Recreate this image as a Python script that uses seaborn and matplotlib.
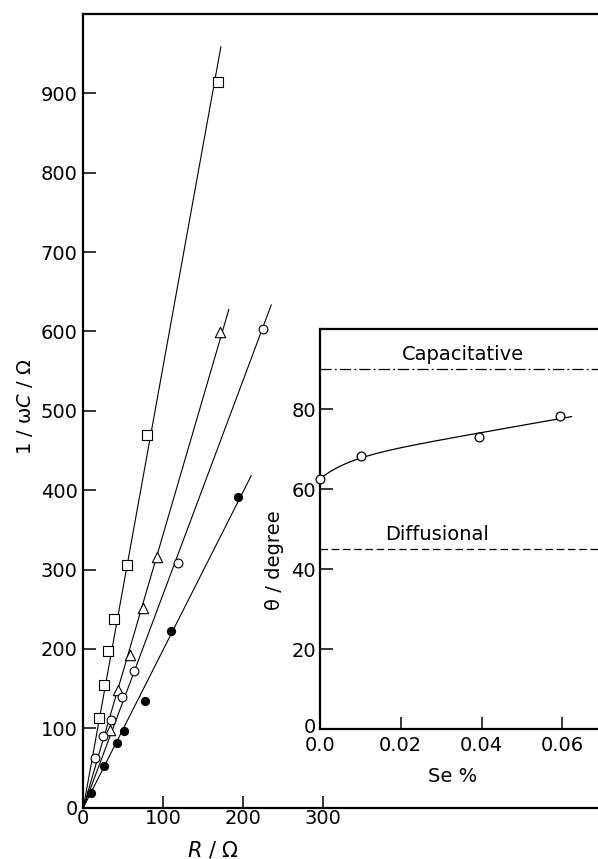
import numpy as np
import pandas as pd
import matplotlib
matplotlib.use("Agg")
import matplotlib.pyplot as plt
import matplotlib.transforms as mtransforms
import seaborn as sns

# ---------------- data ----------------
# main plot: 1/wC vs R for four series
sq_R = [19.8, 26, 31, 38.5, 55, 80, 168]
sq_X = [113, 154, 198, 238, 306, 469, 914]
tri_R = [33, 43.5, 58, 74, 92.7, 170.6]
tri_X = [98, 148, 192, 251, 316, 599]
oc_R = [14.4, 25, 35, 48, 63.5, 118, 225]
oc_X = [63, 90, 110, 140, 172, 308, 603]
fc_R = [10, 26, 41.5, 51, 77, 110, 193]
fc_X = [19, 52, 82, 96.5, 135, 222, 392]
line_end_R = [172, 182, 235, 210]   # x where each fitted line ends

main_xticks = [0, 100, 200, 300]
main_yticks = [0, 100, 200, 300, 400, 500, 600, 700, 800, 900]

# inset: theta vs Se %
se_pct = [0.0, 0.0102, 0.0394, 0.0593]
theta = [62.5, 68.4, 73.1, 78.2]
curve_end = 0.0623
curve_bend = 0.007          # shape parameter of the smooth guide curve
capacitative_level = 90
diffusional_level = 45
inset_xticks = [0.0, 0.02, 0.04, 0.06]
inset_xticklabels = ["0.0", "0.02", "0.04", "0.06"]
inset_yticks = [0, 20, 40, 60, 80]

# ---------------- style ----------------
sns.set_style("ticks")
plt.rcParams["font.family"] = ["DejaVu Sans"]
plt.rcParams["mathtext.fontset"] = "dejavusans"
for k in ("text.color", "axes.edgecolor", "axes.labelcolor", "xtick.color", "ytick.color"):
    plt.rcParams[k] = "black"
FS = 14

W, H = 598, 859
fig = plt.figure(figsize=(W / 100, H / 100), dpi=100)

# main axes (pixel geometry)
x0_px, y0_px, ytop_px = 83.3, 807.7, 14.0
px_per_R = 0.8
ax = fig.add_axes([x0_px / W, (H - y0_px) / H, (W - x0_px) / W, (y0_px - ytop_px) / H])
ax.set_xlim(0, (W - x0_px) / px_per_R)
ax.set_ylim(0, 1000)

series = [
    (sq_R, sq_X, "s", 44, "white"),
    (tri_R, tri_X, "^", 56, "white"),
    (oc_R, oc_X, "o", 40, "white"),
    (fc_R, fc_X, "o", 34, "black"),
]
for (R, X, mk, s, fc), xend in zip(series, line_end_R):
    R = np.asarray(R, float)
    X = np.asarray(X, float)
    slope = np.sum(R * X) / np.sum(R * R)
    xs = np.array([0.0, xend])
    sns.lineplot(x=xs, y=slope * xs, color="black", lw=0.8, ax=ax, sort=False, zorder=2)
    df = pd.DataFrame({"R": R, "X": X})
    sns.scatterplot(data=df, x="R", y="X", marker=mk, s=s, facecolor=fc,
                    edgecolor="black", linewidth=0.8, ax=ax, zorder=3)

ax.set_xticks(main_xticks)
ax.set_yticks(main_yticks)
ax.tick_params(direction="in", length=9, width=1.1, labelsize=FS, colors="black")
ax.tick_params(axis="x", pad=1)
ax.tick_params(axis="y", pad=4)
ax.spines["right"].set_visible(False)
for sp in ("left", "bottom", "top"):
    ax.spines[sp].set_linewidth(1.6)
    ax.spines[sp].set_color("black")
ax.set_xlabel("")
ax.set_ylabel("")

fig.text(25 / W, 1 - 407 / H, r"1 / ω$C$ / Ω", rotation=90, ha="center", va="center", fontsize=FS)
fig.text(213 / W, 2 / H, r"$R$ / Ω", ha="center", va="baseline", fontsize=FS + 1)

# inset axes
ix0, iy0, iytop = 320.0, 729.3, 329.3
px_per_se = 4040.0
ax2 = fig.add_axes([ix0 / W, (H - iy0) / H, (W - ix0) / W, (iy0 - iytop) / H])
ax2.set_facecolor("white")
ax2.set_zorder(5)
ax2.set_xlim(0, (W - ix0) / px_per_se)
ax2.set_ylim(0, 100)

sx = np.asarray(se_pct)
ty = np.asarray(theta)
A = np.column_stack([np.ones_like(sx), sx, 1 - np.exp(-sx / curve_bend)])
coef, *_ = np.linalg.lstsq(A, ty, rcond=None)
cx = np.linspace(0, curve_end, 200)
cy = coef[0] + coef[1] * cx + coef[2] * (1 - np.exp(-cx / curve_bend))
sns.lineplot(x=cx, y=cy, color="black", lw=0.9, ax=ax2, sort=False, zorder=2)
sns.scatterplot(x=sx, y=ty, marker="o", s=40, facecolor="white", edgecolor="black",
                linewidth=0.9, ax=ax2, zorder=3, clip_on=False)

ax2.axhline(capacitative_level, color="black", lw=0.9, ls=(0, (9, 2.5, 1.5, 2.5)))
ax2.axhline(diffusional_level, color="black", lw=0.9, ls=(0, (6, 3)))
ax2.text(0.0354, 93.8, "Capacitative", ha="center", va="center", fontsize=FS)
ax2.text(0.0289, 48.8, "Diffusional", ha="center", va="center", fontsize=FS)

ax2.set_xticks(inset_xticks)
ax2.set_xticklabels(inset_xticklabels)
ax2.set_yticks(inset_yticks)
ax2.tick_params(direction="in", length=9, width=1.1, labelsize=FS, colors="black")
ax2.tick_params(axis="x", pad=5)
ax2.tick_params(axis="y", pad=3)
ax2.spines["right"].set_visible(False)
for sp in ("left", "bottom", "top"):
    ax2.spines[sp].set_linewidth(1.6)
    ax2.spines[sp].set_color("black")
ax2.set_xlabel("")
ax2.set_ylabel("")

# lift the inset's "0" y label a little, as in the reference
zero_lbl = ax2.yaxis.get_major_ticks()[0].label1
zero_lbl.set_transform(zero_lbl.get_transform()
                       + mtransforms.ScaledTranslation(0, 4 / 100, fig.dpi_scale_trans))

fig.text(275 / W, 1 - 560 / H, "θ / degree", rotation=90, ha="center", va="center", fontsize=FS)
fig.text(453 / W, 1 - 777 / H, "Se %", ha="center", va="center", fontsize=FS)

fig.savefig("out.png", dpi=100)
